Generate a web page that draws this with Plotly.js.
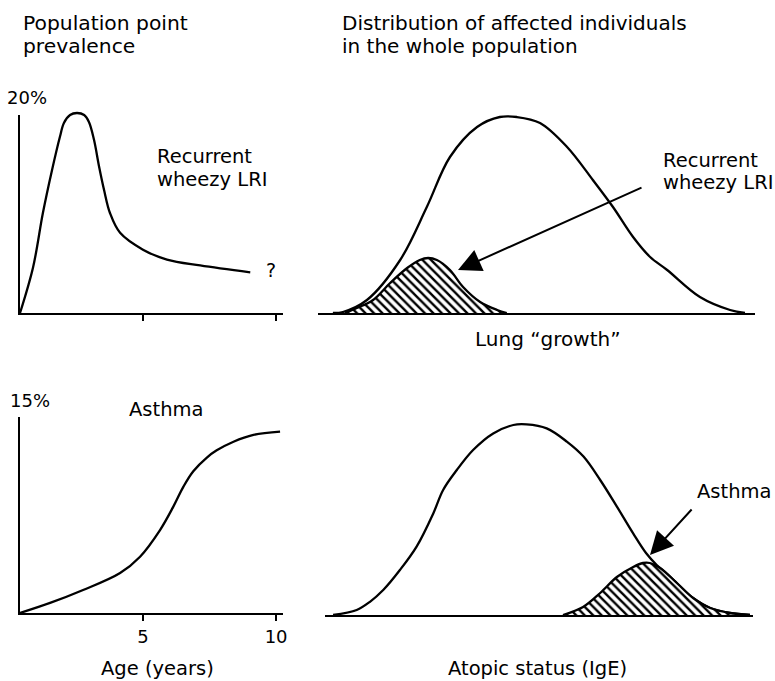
<!DOCTYPE html>
<html>
<head>
<meta charset="utf-8">
<script src="https://cdn.plot.ly/plotly-3.0.1.min.js"></script>
<style>html,body{margin:0;padding:0;background:#fff;}#chart{width:775px;height:681px;}</style>
</head>
<body>
<div id="chart"></div>
<script>
// Top-left: prevalence of recurrent wheezy LRI by age (%)
const lriAge = [0.38, 0.87, 1.24, 1.58, 1.88, 2.03, 2.26, 2.52, 2.79, 2.97, 3.16, 3.35, 3.54, 3.76, 4.14, 5.0, 5.9, 7.15, 9.03];
const lriPrev = [0, 4.6, 10.1, 14.4, 17.8, 19.2, 20.0, 20.2, 20.0, 19.3, 17.5, 14.8, 12.4, 10.1, 8.1, 6.4, 5.4, 4.8, 4.1];
// Bottom-left: prevalence of asthma by age (%)
const asthmaAge = [0.38, 1.51, 2.75, 4.14, 4.89, 5.64, 6.14, 6.52, 6.89, 7.4, 7.77, 8.4, 9.15, 10.15];
const asthmaPrev = [0, 0.77, 1.76, 3.06, 4.31, 6.35, 8.14, 9.67, 10.85, 11.9, 12.45, 13.11, 13.63, 13.88];
// Top-right: whole-population distribution of lung "growth" and affected (LRI)
const lungX = [3.4, 5.7, 11.2, 18.8, 24.9, 30.2, 36.4, 41.6, 45.5, 50.8, 57.0, 62.9, 67.5, 72.1, 76.0, 79.9, 87.4, 94.3, 97.7];
const lungPop = [0, 0.5, 6.5, 26.5, 53, 78, 93, 98, 98, 95, 83, 66.5, 53, 38, 28, 21.5, 8, 1.5, 0];
const lriX = [6.2, 8.9, 12.6, 16.5, 20.4, 23.3, 25.2, 27.2, 30.2, 33.2, 37.1, 41.0, 43.2];
const lriDist = [0, 2.5, 6.5, 15, 22.5, 26.5, 27.5, 26.5, 21.5, 13, 5.5, 1.5, 0];
// Bottom-right: whole-population distribution of atopic status (IgE) and asthma
const igeX = [1.9, 7.4, 10.5, 13.6, 17.5, 21.4, 25.3, 27.6, 30.8, 34.6, 39.3, 44.0, 47.1, 51.8, 56.5, 60.4, 64.3, 68.2, 72.0, 75.0, 77.5, 80.0, 82.2, 86.0, 90.0, 94.6, 99.3];
const igePop = [0, 2.5, 6.6, 12.5, 22.5, 34.2, 50.8, 62.5, 72.5, 82.5, 90.8, 95, 95.3, 93.3, 86.7, 79.2, 67.5, 54.2, 40.8, 31, 25, 20.3, 16, 8.5, 3.5, 1, 0];
const asthmaX = [55.6, 60.3, 64.3, 68.2, 72.0, 74.3, 75.9, 78.3, 82.2, 86.0, 90.0, 94.6, 99.3];
const asthmaDist = [0, 4, 11, 19, 24, 26, 26, 23.5, 16, 8.5, 3.5, 1, 0];
// Axis maxima and tick labels
const lriMax = 20;
const asthmaMax = 15;
const ageRange = [0.38, 10.26];
const ageTicks = [5, 10];
const ageTickText = ['5', '10'];

const W = 775, H = 681;
const px = v => v / W;
const py = v => 1 - v / H;
const FONT = 'DejaVu Sans, Arial, sans-serif';

const lineStyle = {color: '#000', width: 2.3, shape: 'spline', smoothing: 1};
const hatch = {shape: '\\', size: 6, solidity: 0.4, fgcolor: '#000', bgcolor: '#fff', fillmode: 'replace'};

const traces = [
  {x: lriAge, y: lriPrev, xaxis: 'x', yaxis: 'y', mode: 'lines', line: lineStyle, cliponaxis: false},
  {x: [], y: [], xaxis: 'x5', yaxis: 'y5', mode: 'lines', line: lineStyle, hoverinfo: 'skip'},
  {x: asthmaAge, y: asthmaPrev, xaxis: 'x2', yaxis: 'y2', mode: 'lines', line: lineStyle, cliponaxis: false},
  {x: lungX, y: lungPop, xaxis: 'x3', yaxis: 'y3', mode: 'lines', line: lineStyle, cliponaxis: false},
  {x: lriX, y: lriDist, xaxis: 'x3', yaxis: 'y3', mode: 'lines', line: lineStyle, fill: 'tozeroy', fillcolor: '#fff', fillpattern: hatch, cliponaxis: false},
  {x: igeX, y: igePop, xaxis: 'x4', yaxis: 'y4', mode: 'lines', line: lineStyle, cliponaxis: false},
  {x: asthmaX, y: asthmaDist, xaxis: 'x4', yaxis: 'y4', mode: 'lines', line: lineStyle, fill: 'tozeroy', fillcolor: '#fff', fillpattern: hatch, cliponaxis: false}
];

const baseAx = {showgrid: false, zeroline: false, fixedrange: true, linecolor: '#000', linewidth: 2.2, tickcolor: '#000', tickwidth: 2};
const hidden = {showline: false, ticks: '', showticklabels: false};

function ann(text, xPix, yPix, size, xanchor) {
  return {text: text, x: px(xPix), y: py(yPix), xref: 'paper', yref: 'paper', showarrow: false,
    xanchor: xanchor || 'left', yanchor: 'middle', font: {family: FONT, size: size, color: '#000'}};
}

// top-left: same scale on both axis pairs; the plotting pair has headroom above 20 %
const tlTop = 115, tlBottom = 313;
const tlPxPerUnit = (tlBottom - tlTop) / lriMax;
const tlExtra = 1.5;

const layout = {
  width: W, height: H, margin: {l: 0, r: 0, t: 0, b: 0},
  paper_bgcolor: '#fff', plot_bgcolor: 'rgba(0,0,0,0)', showlegend: false,
  font: {family: FONT, color: '#000'},
  // plotting pair (no visible axis)
  xaxis: Object.assign({}, baseAx, hidden, {domain: [px(20), px(283)], range: ageRange, anchor: 'y'}),
  yaxis: Object.assign({}, baseAx, hidden, {domain: [py(tlBottom), py(tlTop - tlExtra * tlPxPerUnit)],
    range: [0, lriMax + tlExtra], anchor: 'x'}),
  // visible axes of top-left panel
  xaxis5: Object.assign({}, baseAx, {domain: [px(20), px(283)], range: ageRange, showline: true,
    tickvals: ageTicks, ticks: 'outside', ticklen: 6, showticklabels: false, anchor: 'y5'}),
  yaxis5: Object.assign({}, baseAx, {domain: [py(tlBottom), py(tlTop)], range: [0, lriMax], showline: true,
    tickvals: [lriMax], ticks: 'inside', ticklen: 13, showticklabels: false, anchor: 'x5'}),
  xaxis2: Object.assign({}, baseAx, {domain: [px(20), px(283)], range: ageRange, showline: true,
    tickvals: ageTicks, ticktext: ageTickText, ticks: 'outside', ticklen: 6, showticklabels: true,
    tickfont: {family: FONT, size: 18, color: '#000'}, anchor: 'y2'}),
  yaxis2: Object.assign({}, baseAx, {domain: [py(613), py(417)], range: [0, asthmaMax], showline: true,
    tickvals: [asthmaMax], ticks: 'inside', ticklen: 13, showticklabels: false, anchor: 'x2'}),
  xaxis3: Object.assign({}, baseAx, {domain: [px(318), px(755)], range: [0, 100], showline: true,
    ticks: '', showticklabels: false, anchor: 'y3'}),
  yaxis3: Object.assign({}, baseAx, hidden, {domain: [py(313), py(113)], range: [0, 100], anchor: 'x3'}),
  xaxis4: Object.assign({}, baseAx, {domain: [px(325), px(753)], range: [0, 100], showline: true,
    ticks: '', showticklabels: false, anchor: 'y4'}),
  yaxis4: Object.assign({}, baseAx, hidden, {domain: [py(615), py(415)], range: [0, 100], anchor: 'x4'}),
  annotations: [
    ann('Population point', 21, 23, 20.3),
    ann('prevalence', 21, 46, 20.3),
    ann('Distribution of affected individuals', 340, 23, 20),
    ann('in the whole population', 340, 46, 20),
    ann('20%', 5, 97, 18),
    ann('15%', 8, 400, 18),
    ann('Recurrent', 155, 156, 19.5),
    ann('wheezy LRI', 155, 179, 19.5),
    ann('?', 264, 270, 19),
    ann('Asthma', 166, 409, 19.5, 'center'),
    ann('Age (years)', 157, 668, 19.5, 'center'),
    ann('Recurrent', 661, 160, 19.5),
    ann('wheezy LRI', 661, 182, 19.5),
    ann('Lung \u201cgrowth\u201d', 548, 339, 20, 'center'),
    ann('Asthma', 695, 491, 19.5),
    ann('Atopic status (IgE)', 537, 668, 19.5, 'center'),
    {text: '', x: px(458), y: py(270), xref: 'paper', yref: 'paper', showarrow: true,
      ax: 185, ay: -83, arrowhead: 2, arrowsize: 2.3, arrowwidth: 2, arrowcolor: '#000', standoff: 0},
    {text: '', x: px(650), y: py(555), xref: 'paper', yref: 'paper', showarrow: true,
      ax: 43, ay: -47, arrowhead: 2, arrowsize: 2.3, arrowwidth: 2, arrowcolor: '#000', standoff: 0}
  ]
};

Plotly.newPlot('chart', traces, layout, {staticPlot: true, displayModeBar: false});
</script>
</body>
</html>
